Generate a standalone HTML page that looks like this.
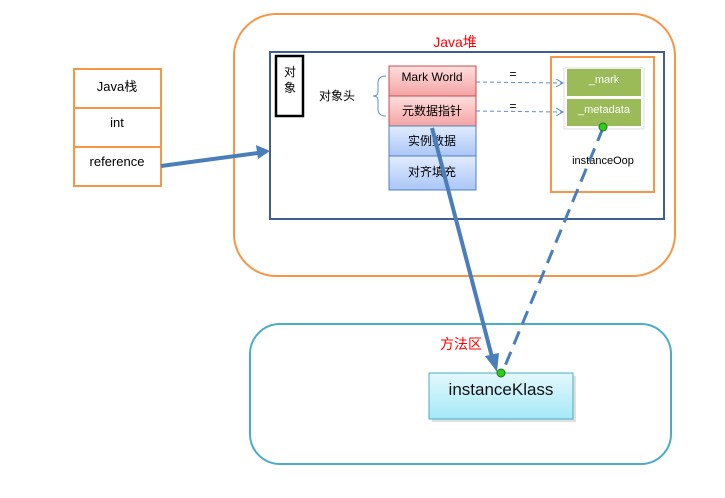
<!DOCTYPE html>
<html><head><meta charset="utf-8"><style>
body{margin:0;background:#fff}
svg{display:block;font-family:"Liberation Sans","Noto Sans CJK SC",sans-serif}
</style></head><body>
<svg width="725" height="498" viewBox="0 0 725 498" xmlns="http://www.w3.org/2000/svg">
<defs>
<linearGradient id="r" x1="0" y1="0" x2="0" y2="1"><stop offset="0" stop-color="#ffdede"/><stop offset="1" stop-color="#f4a3a3"/></linearGradient>
<linearGradient id="b" x1="0" y1="0" x2="0" y2="1"><stop offset="0" stop-color="#e2ecff"/><stop offset="1" stop-color="#a9c6f7"/></linearGradient>
<linearGradient id="c" x1="0" y1="0" x2="0" y2="1"><stop offset="0" stop-color="#e4f8fc"/><stop offset="1" stop-color="#a5e9f8"/></linearGradient>
<marker id="ah" markerWidth="8" markerHeight="8" refX="6" refY="4" orient="auto" markerUnits="userSpaceOnUse"><path d="M0,0 L7,4 L0,8" fill="none" stroke="#5b8fd0" stroke-width="1"/></marker>
</defs>
<!-- heap -->
<rect x="234" y="14" width="441" height="262" rx="42" fill="#fff" stroke="#F79646" stroke-width="2"/>
<text x="455" y="47" fill="#f00" font-size="14" text-anchor="middle">Java堆</text>
<rect x="270" y="52" width="394" height="167" fill="none" stroke="#3F5F8F" stroke-width="2"/>
<rect x="276" y="56" width="27" height="60" fill="#fff" stroke="#000" stroke-width="2.5"/>
<text x="290" y="76" font-size="12" text-anchor="middle">对</text>
<text x="290" y="92" font-size="12" text-anchor="middle">象</text>
<text x="337" y="100" font-size="12" text-anchor="middle">对象头</text>
<path d="M386,76 Q378,76 378,83 L378,92 Q378,96 373,96 Q378,96 378,100 L378,109 Q378,116 386,116" fill="none" stroke="#5b8fd0" stroke-width="1"/>
<g stroke-width="1" font-size="12" text-anchor="middle">
<rect x="389" y="66" width="87" height="30" fill="url(#r)" stroke="#c0504d"/>
<rect x="389" y="96" width="87" height="30" fill="url(#r)" stroke="#c0504d"/>
<rect x="389" y="126" width="87" height="30" fill="url(#b)" stroke="#4f81bd"/>
<rect x="389" y="156" width="87" height="34" fill="url(#b)" stroke="#4f81bd"/>
<text x="432" y="81">Mark World</text>
<text x="432" y="115">元数据指针</text>
<text x="432" y="145">实例数据</text>
<text x="432" y="176">对齐填充</text>
</g>
<rect x="551" y="57" width="103" height="135" fill="#fff" stroke="#F79646" stroke-width="2"/>
<rect x="564" y="68" width="80" height="61" fill="#fff" stroke="#ddd" stroke-width="1"/>
<rect x="567" y="69" width="74" height="27" fill="#9bbb59"/>
<rect x="567" y="99" width="74" height="27" fill="#9bbb59"/>
<text x="604" y="83" font-size="11" fill="#fff" text-anchor="middle">_mark</text>
<text x="604" y="113" font-size="11" fill="#fff" text-anchor="middle">_metadata</text>
<text x="603" y="164" font-size="11" text-anchor="middle">instanceOop</text>
<line x1="476" y1="82" x2="562" y2="83" stroke="#5b8fd0" stroke-dasharray="4,3" marker-end="url(#ah)"/>
<line x1="476" y1="111" x2="562" y2="112" stroke="#5b8fd0" stroke-dasharray="4,3" marker-end="url(#ah)"/>
<text x="513" y="78" font-size="12" text-anchor="middle">=</text>
<text x="513" y="110" font-size="12" text-anchor="middle">=</text>
<!-- stack -->
<g fill="#fff" stroke="#F79646" stroke-width="2">
<rect x="74" y="69" width="87" height="39"/><rect x="74" y="108" width="87" height="39"/><rect x="74" y="147" width="87" height="39"/>
</g>
<g font-size="13" text-anchor="middle">
<text x="117" y="91">Java栈</text><text x="117" y="127">int</text><text x="117" y="166">reference</text>
</g>
<line x1="161" y1="166" x2="258" y2="153" stroke="#4a7ebb" stroke-width="4"/>
<path d="M270,151 L256,145 L258,159 Z" fill="#4a7ebb"/>
<!-- method area -->
<rect x="250" y="324" width="421" height="140" rx="30" fill="none" stroke="#4BACC6" stroke-width="2"/>
<text x="461" y="349" font-size="14" fill="#f00" text-anchor="middle">方法区</text>
<rect x="432" y="376" width="144" height="46" fill="#ccc" opacity="0.6"/>
<rect x="429" y="373" width="144" height="46" fill="url(#c)" stroke="#4BACC6" stroke-width="1"/>
<text x="501" y="395" font-size="17" text-anchor="middle" fill="#111">instanceKlass</text>
<line x1="432" y1="128" x2="492" y2="357" stroke="#4a7ebb" stroke-width="4"/>
<path d="M497,372 L485,356 L499,353 Z" fill="#4a7ebb"/>
<line x1="603" y1="128" x2="505" y2="366" stroke="#4a7ebb" stroke-width="3" stroke-dasharray="14,8"/>
<circle cx="603" cy="127" r="4" fill="#2ecc1f" stroke="#1a7a10"/>
<circle cx="501" cy="373" r="4" fill="#2ecc1f" stroke="#1a7a10"/>
</svg>
</body></html>
